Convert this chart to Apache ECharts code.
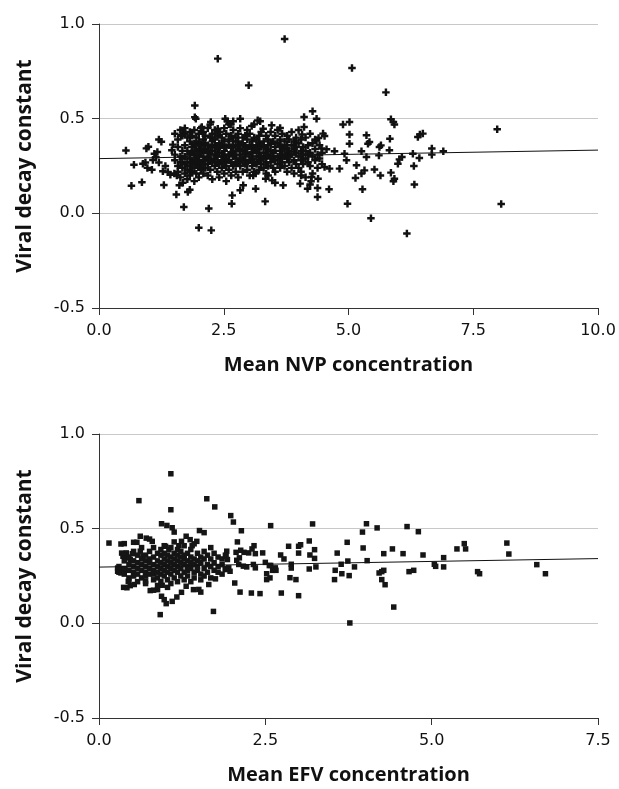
<!DOCTYPE html>
<html><head><meta charset="utf-8">
<script src="https://cdn.jsdelivr.net/npm/echarts@6/dist/echarts.min.js"></script>
<style>html,body{margin:0;padding:0;background:#fff}#c{width:619px;height:789px}</style>
</head><body><div id="c"></div>
<script>
// ---- Data ----
const nvpTicksX = [0, 2.5, 5, 7.5, 10];
const efvTicksX = [0, 2.5, 5, 7.5];
const yTicks = [-0.5, 0, 0.5, 1.0];
const nvpTrend = [[0, 0.289], [10, 0.334]];
const efvTrend = [[0, 0.297], [7.5, 0.342]];

const nvpSparse = [
[0.54,0.332],[0.70,0.257],[0.65,0.146],[0.86,0.164],[1.30,0.150],[0.99,0.352],[0.95,0.343],[1.17,0.324],[1.20,0.390],[1.25,0.378],
[1.14,0.296],[0.93,0.268],[0.97,0.240],[1.06,0.230],[1.20,0.268],[1.28,0.222],[1.38,0.218],[1.43,0.204],[1.11,0.315],[1.08,0.282],
[0.88,0.262],[1.33,0.250],[1.46,0.333],[1.48,0.363],[1.51,0.210],[1.56,0.200],[1.61,0.148],[1.68,0.162],[1.55,0.099],[1.70,0.033],
[1.78,0.113],[1.82,0.125],[1.68,0.438],[1.72,0.421],[1.64,0.412],[1.92,0.570],[1.92,0.508],[1.94,0.500],[2.06,0.456],[2.24,0.482],
[2.38,0.447],[2.42,0.430],[2.53,0.500],[2.57,0.486],[2.64,0.469],
[2.00,-0.076],[2.25,-0.090],[2.20,0.026],[2.38,0.817],[3.72,0.921],[3.00,0.676],[5.07,0.768],[5.75,0.639],[7.98,0.444],[8.06,0.049],
[5.45,-0.026],[6.17,-0.107],
[4.28,0.539],[4.11,0.509],[4.36,0.500],[2.83,0.500],[2.69,0.486],[3.18,0.491],[3.23,0.486],[3.06,0.461],[3.29,0.447],[3.46,0.465],
[3.63,0.451],[4.11,0.456],[4.07,0.416],[4.89,0.469],[5.02,0.482],[5.02,0.416],[5.02,0.368],[4.36,0.386],[4.40,0.398],[4.49,0.421],
[4.52,0.408],[4.46,0.342],[4.56,0.338],[4.72,0.328],[4.92,0.315],[4.96,0.280],[5.16,0.254],[4.52,0.245],[4.62,0.236],[4.82,0.236],
[5.14,0.187],[4.61,0.127],[4.38,0.086],[4.38,0.134],[4.18,0.130],[4.23,0.152],[4.03,0.157],[4.05,0.200],[4.26,0.192],[4.25,0.169],
[4.39,0.183],[3.69,0.148],[3.53,0.162],[3.47,0.174],[3.34,0.183],[3.39,0.200],[3.14,0.130],[3.33,0.063],[2.89,0.148],[2.83,0.122],
[2.67,0.095],[2.66,0.051],[4.98,0.051],[3.09,0.200],[3.14,0.210],
[5.85,0.497],[5.90,0.482],[5.92,0.469],[5.36,0.412],[5.39,0.368],[5.42,0.377],[5.83,0.394],[6.39,0.403],[6.43,0.416],[6.49,0.421],
[5.62,0.350],[5.65,0.359],[5.26,0.328],[5.82,0.333],[6.67,0.342],[6.90,0.328],[6.67,0.310],[6.29,0.315],[5.36,0.298],[5.61,0.306],
[6.42,0.292],[6.07,0.298],[6.02,0.285],[5.99,0.262],[6.31,0.250],[5.52,0.232],[5.32,0.227],[5.26,0.210],[5.64,0.200],[5.85,0.215],
[5.90,0.169],[5.92,0.183],[6.32,0.152],[5.28,0.127]
];

const nvpDense = [
[1.52,0.28],[1.52,0.31],[1.52,0.42],[1.58,0.25],[1.58,0.35],[1.58,0.39],[1.58,0.22],[1.63,0.30],[1.63,0.44],[1.63,0.27],[1.63,0.19],
[1.67,0.33],[1.67,0.24],[1.67,0.41],[1.67,0.29],[1.72,0.36],[1.72,0.21],[1.72,0.30],[1.72,0.26],[1.72,0.45],[1.77,0.40],[1.77,0.27],
[1.77,0.33],[1.77,0.18],[1.77,0.23],[1.82,0.31],[1.82,0.38],[1.82,0.25],[1.82,0.43],[1.82,0.29],[1.82,0.20],[1.86,0.35],[1.86,0.27],
[1.86,0.41],[1.86,0.22],[1.86,0.32],[1.91,0.29],[1.91,0.37],[1.91,0.44],[1.91,0.24],[1.91,0.33],[1.91,0.17],[1.95,0.40],[1.95,0.26],
[1.95,0.31],[1.95,0.36],[1.95,0.21],[1.95,0.28],[2.00,0.34],[2.00,0.42],[2.00,0.25],[2.00,0.30],[2.00,0.19],[2.00,0.38],[2.04,0.27],
[2.04,0.45],[2.04,0.32],[2.04,0.36],[2.04,0.23],[2.09,0.30],[2.09,0.39],[2.09,0.26],[2.09,0.43],[2.09,0.34],[2.09,0.21],[2.13,0.33],
[2.13,0.28],[2.13,0.37],[2.13,0.24],[2.13,0.41],[2.18,0.36],[2.18,0.29],[2.18,0.45],[2.18,0.32],[2.18,0.20],[2.18,0.26],[2.23,0.31],
[2.23,0.40],[2.23,0.35],[2.23,0.23],[2.23,0.28],[2.23,0.47],[2.27,0.38],[2.27,0.27],[2.27,0.33],[2.27,0.42],[2.27,0.18],[2.32,0.29],
[2.32,0.36],[2.32,0.25],[2.32,0.44],[2.32,0.31],[2.32,0.39],[2.37,0.34],[2.37,0.41],[2.37,0.22],[2.37,0.30],[2.37,0.27],[2.41,0.37],
[2.41,0.26],[2.41,0.32],[2.41,0.43],[2.41,0.19],[2.41,0.35],[2.46,0.30],[2.46,0.40],[2.46,0.24],[2.46,0.36],[2.46,0.28],[2.51,0.33],
[2.51,0.45],[2.51,0.27],[2.51,0.38],[2.51,0.21],[2.51,0.31],[2.55,0.29],[2.55,0.35],[2.55,0.42],[2.55,0.25],[2.55,0.17],[2.60,0.36],
[2.60,0.31],[2.60,0.39],[2.60,0.23],[2.60,0.28],[2.60,0.47],[2.65,0.32],[2.65,0.27],[2.65,0.41],[2.65,0.35],[2.65,0.20],[2.69,0.38],
[2.69,0.30],[2.69,0.44],[2.69,0.25],[2.69,0.33],[2.74,0.29],[2.74,0.36],[2.74,0.22],[2.74,0.40],[2.74,0.31],[2.74,0.26],[2.79,0.34],
[2.79,0.42],[2.79,0.27],[2.79,0.38],[2.79,0.19],[2.83,0.31],[2.83,0.25],[2.83,0.36],[2.83,0.45],[2.83,0.29],[2.88,0.37],[2.88,0.28],
[2.88,0.33],[2.88,0.22],[2.88,0.40],[2.93,0.30],[2.93,0.41],[2.93,0.26],[2.93,0.35],[2.93,0.32],[2.97,0.34],[2.97,0.27],[2.97,0.39],
[2.97,0.23],[2.97,0.44],[3.02,0.31],[3.02,0.36],[3.02,0.28],[3.02,0.42],[3.02,0.20],[3.07,0.35],[3.07,0.29],[3.07,0.38],[3.07,0.25],
[3.07,0.32],[3.11,0.40],[3.11,0.27],[3.11,0.33],[3.11,0.47],[3.11,0.22],[3.16,0.30],[3.16,0.36],[3.16,0.26],[3.16,0.39],[3.16,0.34],
[3.21,0.28],[3.21,0.41],[3.21,0.32],[3.21,0.23],[3.21,0.37],[3.25,0.35],[3.25,0.30],[3.25,0.43],[3.25,0.26],[3.30,0.32],[3.30,0.38],
[3.30,0.24],[3.30,0.29],[3.30,0.36],[3.35,0.27],[3.35,0.34],[3.35,0.41],[3.35,0.30],[3.35,0.21],[3.39,0.36],[3.39,0.31],[3.39,0.25],
[3.39,0.39],[3.44,0.29],[3.44,0.43],[3.44,0.33],[3.44,0.27],[3.44,0.37],[3.49,0.32],[3.49,0.24],[3.49,0.38],[3.49,0.30],[3.53,0.35],
[3.53,0.28],[3.53,0.41],[3.53,0.22],[3.53,0.33],[3.58,0.30],[3.58,0.37],[3.58,0.26],[3.58,0.44],[3.63,0.33],[3.63,0.29],[3.63,0.39],
[3.63,0.24],[3.63,0.36],[3.67,0.27],[3.67,0.42],[3.67,0.31],[3.67,0.35],[3.72,0.34],[3.72,0.25],[3.72,0.38],[3.72,0.30],[3.77,0.29],
[3.77,0.36],[3.77,0.41],[3.77,0.22],[3.77,0.32],[3.81,0.33],[3.81,0.27],[3.81,0.39],[3.81,0.30],[3.86,0.36],[3.86,0.24],[3.86,0.31],
[3.86,0.43],[3.91,0.28],[3.91,0.34],[3.91,0.38],[3.91,0.21],[3.95,0.32],[3.95,0.26],[3.95,0.40],[3.95,0.35],[4.00,0.30],[4.00,0.37],
[4.00,0.24],[4.00,0.44],[4.05,0.33],[4.05,0.28],[4.05,0.39],[4.05,0.22],[4.09,0.35],[4.09,0.31],[4.09,0.26],[4.14,0.29],[4.14,0.40],
[4.14,0.33],[4.14,0.19],[4.19,0.36],[4.19,0.27],[4.19,0.31],[4.23,0.32],[4.23,0.42],[4.23,0.25],[4.28,0.30],[4.28,0.37],[4.28,0.21],
[4.33,0.34],[4.33,0.28],[4.33,0.39],[4.38,0.31],[4.38,0.24],[4.42,0.36],[4.42,0.29],[4.47,0.32],[4.47,0.26]
];

const efvSparse = [
[1.08,0.790],[0.60,0.648],[1.08,0.600],[1.62,0.658],[1.74,0.615],[1.98,0.569],[2.02,0.535],[0.94,0.526],[1.02,0.517],[1.10,0.505],
[1.13,0.482],[1.51,0.490],[1.58,0.479],[2.14,0.489],[2.58,0.516],[3.21,0.525],[4.02,0.526],[4.18,0.504],[4.63,0.511],[3.96,0.482],
[4.80,0.484],[0.15,0.424],[0.33,0.419],[0.34,0.371],[0.40,0.357],[0.36,0.354],[0.50,0.368],[0.62,0.460],[0.71,0.450],[0.76,0.445],
[0.80,0.433],[0.52,0.428],[0.28,0.292],[0.28,0.275],[0.33,0.266],[0.37,0.190],[0.47,0.199],[0.44,0.222],[0.77,0.173],[0.88,0.178],
[0.95,0.201],[0.94,0.143],[0.98,0.125],[1.01,0.104],[0.92,0.046],[1.10,0.116],[1.17,0.139],[1.24,0.164],[1.42,0.178],[1.53,0.165],
[1.72,0.063],[2.04,0.213],[2.12,0.165],[2.29,0.160],[2.42,0.157],[2.74,0.160],[3.00,0.146],[2.96,0.231],[2.87,0.241],[2.52,0.231],
[2.52,0.262],[2.61,0.280],[2.58,0.306],[2.50,0.322],[2.73,0.361],[2.78,0.340],[2.85,0.407],[3.00,0.407],[3.03,0.415],[3.00,0.371],
[2.89,0.312],[2.89,0.292],[3.16,0.435],[3.17,0.361],[3.24,0.389],[3.24,0.343],[3.26,0.298],[3.16,0.287],[3.58,0.371],[3.73,0.428],
[3.55,0.280],[3.54,0.231],[3.64,0.312],[3.65,0.262],[3.76,0.252],[3.74,0.329],[3.84,0.298],[3.97,0.398],[4.03,0.331],[3.77,0.002],
[4.21,0.266],[4.25,0.273],[4.28,0.280],[4.25,0.231],[4.30,0.204],[4.28,0.368],[4.41,0.393],[4.43,0.086],[4.57,0.368],[4.66,0.273],
[4.73,0.280],[4.87,0.361],[5.04,0.312],[5.06,0.301],[5.18,0.347],[5.18,0.298],[5.38,0.393],[5.49,0.421],[5.51,0.393],[5.69,0.273],
[5.72,0.262],[6.13,0.424],[6.16,0.366],[6.58,0.310],[6.71,0.262],
[2.06,0.375],[2.13,0.386],[2.18,0.375],[2.25,0.372],[2.30,0.393],[2.33,0.410],[2.35,0.368],[2.46,0.372],[2.07,0.333],[2.11,0.346],
[2.10,0.311],[2.17,0.302],[2.22,0.298],[2.32,0.311],[2.35,0.293],[1.90,0.284],[1.95,0.293],[1.97,0.275],[2.56,0.305],[2.65,0.293],
[2.66,0.280],[2.57,0.240],[2.08,0.430],[1.92,0.381],[1.91,0.354],[1.93,0.337],
[1.20,0.410],[1.24,0.433],[1.31,0.460],[1.37,0.442],[1.40,0.410],[1.47,0.433],[1.00,0.407],[1.05,0.389],[0.62,0.381],[0.66,0.354],
[0.41,0.372],[0.42,0.346],[0.47,0.337],[0.32,0.288],[0.35,0.275],[0.39,0.284],[0.42,0.188],[0.53,0.205],[0.70,0.223],[0.82,0.175],
[1.31,0.196],[1.50,0.179],[1.65,0.205],[1.75,0.235],[0.57,0.428],[0.38,0.421]
];

const efvDense = [
[0.30,0.27],[0.30,0.30],[0.38,0.26],[0.38,0.29],[0.38,0.33],[0.38,0.36],[0.45,0.24],[0.45,0.28],[0.45,0.31],[0.45,0.35],[0.45,0.22],
[0.52,0.27],[0.52,0.30],[0.52,0.33],[0.52,0.25],[0.52,0.38],[0.58,0.29],[0.58,0.32],[0.58,0.26],[0.58,0.36],[0.58,0.22],[0.64,0.28],
[0.64,0.31],[0.64,0.34],[0.64,0.24],[0.64,0.40],[0.70,0.27],[0.70,0.30],[0.70,0.33],[0.70,0.36],[0.70,0.25],[0.70,0.21],[0.76,0.29],
[0.76,0.32],[0.76,0.26],[0.76,0.38],[0.76,0.34],[0.82,0.28],[0.82,0.31],[0.82,0.35],[0.82,0.23],[0.82,0.40],[0.82,0.26],[0.88,0.30],
[0.88,0.33],[0.88,0.27],[0.88,0.37],[0.88,0.24],[0.88,0.20],[0.93,0.29],[0.93,0.32],[0.93,0.36],[0.93,0.26],[0.93,0.39],[0.93,0.22],
[0.98,0.31],[0.98,0.34],[0.98,0.28],[0.98,0.25],[0.98,0.41],[0.98,0.37],[1.03,0.30],[1.03,0.27],[1.03,0.33],[1.03,0.36],[1.03,0.23],
[1.03,0.19],[1.08,0.32],[1.08,0.29],[1.08,0.35],[1.08,0.26],[1.08,0.40],[1.08,0.21],[1.13,0.31],[1.13,0.34],[1.13,0.28],[1.13,0.37],
[1.13,0.24],[1.13,0.43],[1.18,0.30],[1.18,0.33],[1.18,0.27],[1.18,0.36],[1.18,0.22],[1.18,0.39],[1.23,0.32],[1.23,0.29],[1.23,0.35],
[1.23,0.25],[1.23,0.38],[1.28,0.31],[1.28,0.34],[1.28,0.27],[1.28,0.41],[1.28,0.23],[1.28,0.36],[1.33,0.30],[1.33,0.33],[1.33,0.28],
[1.33,0.37],[1.33,0.25],[1.38,0.32],[1.38,0.29],[1.38,0.35],[1.38,0.22],[1.38,0.39],[1.43,0.31],[1.43,0.27],[1.43,0.34],[1.43,0.24],
[1.43,0.42],[1.48,0.30],[1.48,0.33],[1.48,0.28],[1.48,0.37],[1.53,0.32],[1.53,0.26],[1.53,0.35],[1.53,0.23],[1.58,0.29],[1.58,0.34],
[1.58,0.38],[1.58,0.25],[1.63,0.31],[1.63,0.27],[1.63,0.36],[1.68,0.30],[1.68,0.34],[1.68,0.24],[1.68,0.40],[1.73,0.28],[1.73,0.32],
[1.73,0.37],[1.79,0.30],[1.79,0.27],[1.79,0.35],[1.85,0.31],[1.85,0.34],[1.85,0.26],[1.90,0.29],[1.90,0.36]
];

const nvpPoints = nvpSparse.concat(nvpDense);
const efvPoints = efvSparse.concat(efvDense);

// ---- Chart ----
const chart = echarts.init(document.getElementById('c'), null, {renderer: 'canvas'});
const tickFont = {fontFamily: '"DejaVu Sans", "Open Sans", sans-serif', fontSize: 16, color: '#111'};
const titleFont = {fontFamily: '"Open Sans", "DejaVu Sans", sans-serif', fontWeight: 'bold', fontSize: 20, color: '#111'};
const yTitleFont = Object.assign({}, titleFont, {fontSize: 21});
const fmt = v => v.toFixed(1);
function xAx(idx, max, name) {
  return {
    gridIndex: idx, type: 'value', min: 0, max: max, interval: 2.5,
    name: name, nameLocation: 'middle', nameGap: 47, nameTextStyle: titleFont,
    axisLine: {show: true, onZero: false, lineStyle: {color: '#333', width: 1}},
    axisTick: {show: true, length: 7, lineStyle: {color: '#333'}},
    axisLabel: Object.assign({formatter: fmt, margin: 15}, tickFont),
    splitLine: {show: false}
  };
}
function yAx(idx) {
  return {
    gridIndex: idx, type: 'value', min: -0.5, max: 1.0, interval: 0.5,
    name: 'Viral decay constant', nameLocation: 'middle', nameGap: 63, nameTextStyle: yTitleFont,
    axisLine: {show: true, lineStyle: {color: '#333', width: 1}},
    axisTick: {show: true, length: 7, lineStyle: {color: '#333'}},
    axisLabel: Object.assign({formatter: fmt, margin: 14}, tickFont),
    splitLine: {show: true, lineStyle: {color: '#c8c8c8', width: 1.2}}
  };
}
const plusPath = 'path://M2.7,0H5.3V2.7H8V5.3H5.3V8H2.7V5.3H0V2.7H2.7Z';
chart.setOption({
  animation: false,
  backgroundColor: '#fff',
  grid: [
    {left: 99, top: 24, width: 499, height: 284},
    {left: 99, top: 434, width: 499, height: 284}
  ],
  xAxis: [xAx(0, 10, 'Mean NVP concentration'), xAx(1, 7.5, 'Mean EFV concentration')],
  yAxis: [yAx(0), yAx(1)],
  series: [
    {type: 'scatter', xAxisIndex: 0, yAxisIndex: 0, data: nvpPoints, symbol: plusPath, symbolSize: 7.5,
     itemStyle: {color: '#111', opacity: 1}, z: 3},
    {type: 'line', xAxisIndex: 0, yAxisIndex: 0, data: nvpTrend, showSymbol: false, symbol: 'none',
     lineStyle: {color: '#111', width: 1}, z: 4},
    {type: 'scatter', xAxisIndex: 1, yAxisIndex: 1, data: efvPoints, symbol: 'rect', symbolSize: 5.5,
     itemStyle: {color: '#151515', opacity: 1}, z: 3},
    {type: 'line', xAxisIndex: 1, yAxisIndex: 1, data: efvTrend, showSymbol: false, symbol: 'none',
     lineStyle: {color: '#111', width: 1}, z: 4}
  ]
});
</script></body></html>
